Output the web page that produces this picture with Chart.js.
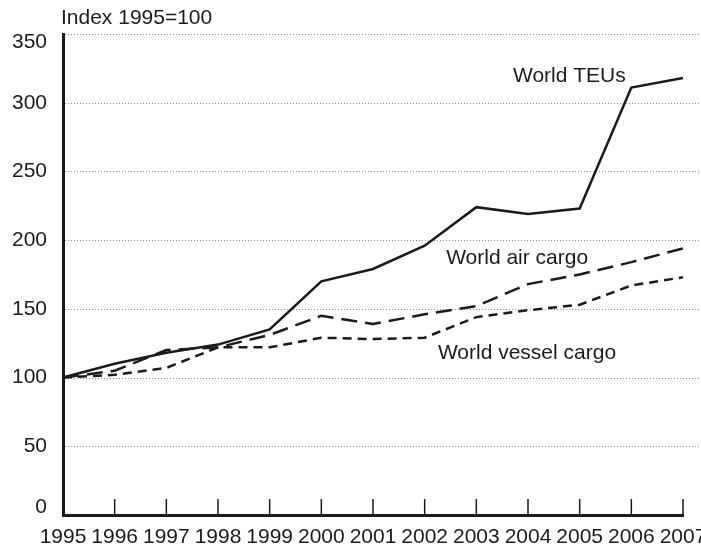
<!DOCTYPE html>
<html>
<head>
<meta charset="utf-8">
<script src="https://cdn.jsdelivr.net/npm/chart.js@4/dist/chart.umd.min.js"></script>
<style>
  html,body{margin:0;padding:0;background:#fff}
  #wrap{width:701px;height:547px;position:relative}
</style>
</head>
<body>
<div id="wrap"><canvas id="c" width="701" height="547"></canvas></div>
<script>
// data
const years = ['1995','1996','1997','1998','1999','2000','2001','2002','2003','2004','2005','2006','2007'];
const teus   = [100,110,118,124,135,170,179,196,224,219,223,311,318];
const air    = [100,105,120,122,131,145,139,146,152,168,175,184,194];
const vessel = [100,102,107,122,122,129,128,129,144,149,153,167,173];
const yTicks = [0,50,100,150,200,250,300,350];

// series labels, placed in data units (year index, value)
const notes = [
  {text:'World TEUs', x:9.8, y:319.5},
  {text:'World air cargo', x:8.79, y:187},
  {text:'World vessel cargo', x:8.98, y:118}
];

const FONT = '"Liberation Sans", Arial, Helvetica, sans-serif';
const INK = '#1b1b1b';

// dotted grid out to the page edge, inner ticks, y labels, title and line labels
const extras = {
  id:'extras',
  beforeDatasetsDraw(chart){
    const {ctx, chartArea:a, scales:{x,y}} = chart;
    ctx.save();
    ctx.strokeStyle = '#8a8a8a';
    ctx.lineWidth = 1;
    ctx.setLineDash([1,2]);
    yTicks.forEach(v=>{
      if(v===0) return;
      const py = Math.round(y.getPixelForValue(v))+0.5;
      ctx.beginPath(); ctx.moveTo(a.left+2, py); ctx.lineTo(chart.width, py); ctx.stroke();
    });
    ctx.restore();
  },
  afterDraw(chart){
    const {ctx, chartArea:a, scales:{x,y}} = chart;
    ctx.save();
    ctx.strokeStyle = INK;
    ctx.lineWidth = 1.5;
    years.forEach((yr,i)=>{
      if(i===0) return;
      const px = x.getPixelForTick(i);
      ctx.beginPath(); ctx.moveTo(px, a.bottom); ctx.lineTo(px, a.bottom-16); ctx.stroke();
    });
    ctx.fillStyle = INK;
    ctx.font = '21px '+FONT;
    ctx.textBaseline = 'middle';
    // y labels, the end ones kept inside the axis span
    ctx.textAlign = 'right';
    yTicks.forEach(v=>{
      const py = Math.min(Math.max(y.getPixelForValue(v), a.top+8), a.bottom-8);
      ctx.fillText(String(v), a.left-16, py);
    });
    ctx.textAlign = 'left';
    ctx.fillText('Index 1995=100', a.left-2, 18);
    ctx.textAlign = 'center';
    notes.forEach(n=>{
      ctx.fillText(n.text, x.getPixelForValue(n.x), y.getPixelForValue(n.y));
    });
    ctx.restore();
  }
};

const common = {fill:false, tension:0, pointRadius:0, borderWidth:2.5, borderColor:INK, borderCapStyle:'butt'};

new Chart(document.getElementById('c'), {
  type:'line',
  data:{
    labels: years,
    datasets:[
      {...common, label:'World TEUs', data:teus},
      {...common, label:'World air cargo', data:air, borderDash:[16,8]},
      {...common, label:'World vessel cargo', data:vessel, borderDash:[9,6]}
    ]
  },
  options:{
    responsive:false,
    animation:false,
    layout:{padding:{left:0, top:34, right:18, bottom:0}},
    plugins:{legend:{display:false}, tooltip:{enabled:false}},
    scales:{
      x:{
        offset:false,
        grid:{display:false, drawTicks:false},
        border:{display:true, color:INK, width:3},
        ticks:{color:INK, font:{size:21, family:FONT}, padding:10, maxRotation:0, autoSkip:false},
        afterFit(s){ s.height = 32; s.paddingLeft = 0; s.paddingRight = 0; }
      },
      y:{
        min:0, max:350,
        grid:{display:false, drawTicks:false},
        border:{display:true, color:INK, width:3},
        ticks:{stepSize:50, display:false},
        afterFit(s){ s.width = 63; s.paddingTop = 0; s.paddingBottom = 0; }
      }
    }
  },
  plugins:[extras]
});
</script>
</body>
</html>
